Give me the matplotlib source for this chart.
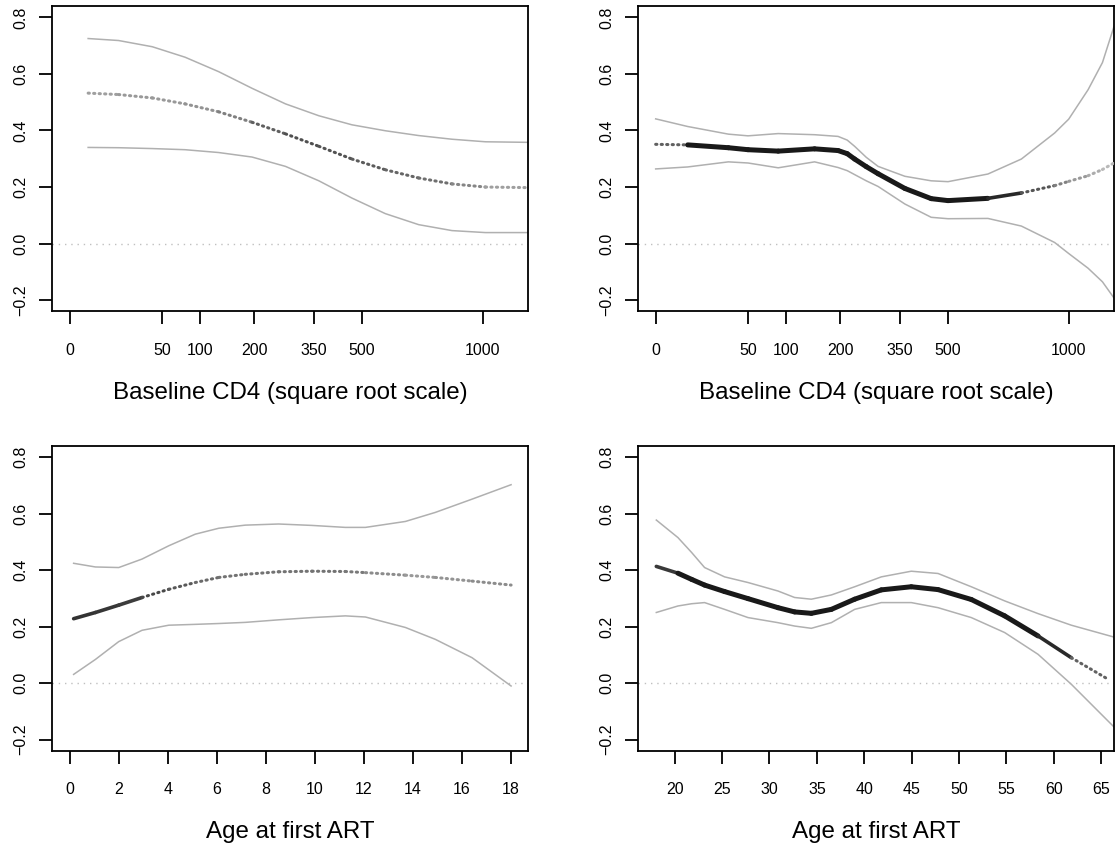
import numpy as np
import matplotlib
matplotlib.use("Agg")
import matplotlib.pyplot as plt
from matplotlib.collections import LineCollection

plt.rcParams['font.family'] = ['Liberation Sans', 'DejaVu Sans']

# ---------------- data ----------------
# Panel A: baseline CD4, children
cd4_a = [2, 14, 40, 78, 130, 195, 273, 364, 467, 584, 714, 857, 1013, 1231]
upper_a = [0.725, 0.718, 0.696, 0.659, 0.608, 0.549, 0.494, 0.452, 0.420, 0.399, 0.382, 0.369, 0.360, 0.358]
lower_a = [0.340, 0.339, 0.336, 0.332, 0.322, 0.306, 0.273, 0.222, 0.161, 0.106, 0.067, 0.046, 0.039, 0.039]
mean_a = [0.532, 0.527, 0.515, 0.494, 0.466, 0.429, 0.388, 0.344, 0.299, 0.261, 0.232, 0.211, 0.200, 0.198]
dens_a = [0.35, 0.40, 0.40, 0.40, 0.45, 0.55, 0.70, 0.68, 0.66, 0.62, 0.58, 0.55, 0.40, 0.35]

# Panel B: baseline CD4, adults
cd4_b = [0, 6, 31, 50, 88, 148, 195, 215, 232, 260, 290, 364, 445, 501, 647, 784, 933, 1000, 1096, 1170, 1231]
upper_b = [0.441, 0.414, 0.387, 0.381, 0.389, 0.385, 0.379, 0.366, 0.344, 0.305, 0.273, 0.238, 0.222, 0.219,
           0.246, 0.299, 0.391, 0.440, 0.544, 0.640, 0.767]
lower_b = [0.264, 0.271, 0.289, 0.285, 0.268, 0.289, 0.269, 0.258, 0.244, 0.222, 0.202, 0.140, 0.093, 0.088,
           0.089, 0.062, 0.004, -0.035, -0.087, -0.135, -0.192]
mean_b = [0.351, 0.349, 0.339, 0.332, 0.327, 0.335, 0.329, 0.318, 0.299, 0.272, 0.247, 0.195, 0.159, 0.152,
          0.160, 0.179, 0.205, 0.220, 0.240, 0.262, 0.285]
dens_b = [0.35, 0.90, 0.90, 0.90, 0.90, 0.90, 0.90, 0.90, 0.90, 0.90, 0.90, 0.90, 0.90, 0.90,
          0.90, 0.78, 0.55, 0.45, 0.35, 0.30, 0.25]

# Panel C: age at first ART, children
age_c = [0.16, 1.05, 2.0, 2.95, 4.04, 5.12, 6.08, 7.16, 8.52, 9.88, 11.24, 12.06, 13.69, 14.91, 16.41, 18.0]
upper_c = [0.424, 0.411, 0.409, 0.439, 0.486, 0.527, 0.548, 0.559, 0.563, 0.558, 0.551, 0.551, 0.572, 0.604, 0.651, 0.702]
lower_c = [0.031, 0.084, 0.147, 0.187, 0.205, 0.208, 0.211, 0.215, 0.224, 0.232, 0.238, 0.234, 0.197, 0.155, 0.090, -0.010]
mean_c = [0.228, 0.250, 0.276, 0.303, 0.332, 0.356, 0.374, 0.385, 0.394, 0.396, 0.395, 0.391, 0.382, 0.374, 0.361, 0.347]
dens_c = [0.80, 0.80, 0.78, 0.75, 0.68, 0.62, 0.55, 0.55, 0.55, 0.55, 0.55, 0.50, 0.40, 0.40, 0.45, 0.45]

# Panel D: age at first ART, adults
age_d = [18.07, 20.35, 21.8, 23.16, 25.27, 27.74, 30.90, 32.66, 34.42, 36.53, 38.99, 41.80, 44.96, 47.78,
         51.29, 54.81, 58.33, 61.84, 66.34]
upper_d = [0.577, 0.515, 0.462, 0.409, 0.376, 0.356, 0.326, 0.303, 0.297, 0.312, 0.341, 0.376, 0.396, 0.388,
           0.341, 0.291, 0.246, 0.205, 0.163]
lower_d = [0.250, 0.273, 0.281, 0.285, 0.261, 0.232, 0.214, 0.202, 0.194, 0.214, 0.261, 0.285, 0.285, 0.267,
           0.232, 0.179, 0.102, -0.004, -0.155]
age_d_mean = [18.07, 20.35, 21.8, 23.16, 25.27, 27.74, 30.90, 32.66, 34.42, 36.53, 38.99, 41.80, 44.96, 47.78,
              51.29, 54.81, 58.33, 61.84, 65.71]
mean_d = [0.413, 0.389, 0.367, 0.347, 0.324, 0.299, 0.267, 0.252, 0.247, 0.261, 0.297, 0.330, 0.341, 0.331,
          0.296, 0.238, 0.167, 0.090, 0.014]
dens_d = [0.65, 0.90, 0.90, 0.90, 0.90, 0.90, 0.90, 0.90, 0.90, 0.90, 0.90, 0.90, 0.90, 0.90,
          0.90, 0.90, 0.90, 0.78, 0.45]

cd4_ticks = [0, 50, 100, 200, 350, 500, 1000]
age_child_ticks = [0, 2, 4, 6, 8, 10, 12, 14, 16, 18]
age_adult_ticks = [20, 25, 30, 35, 40, 45, 50, 55, 60, 65]
y_ticks = [-0.2, 0.0, 0.2, 0.4, 0.6, 0.8]
y_ticklabels = ['\u22120.2', '0.0', '0.2', '0.4', '0.6', '0.8']
xlabel_cd4 = 'Baseline CD4 (square root scale)'
xlabel_age = 'Age at first ART'

# ---------------- layout ----------------
W, H = 1120, 847
fig = plt.figure(figsize=(W / 100, H / 100), dpi=100)


def add_axes_px(left, right, top, bottom):
    return fig.add_axes([left / W, 1 - bottom / H, (right - left) / W, (bottom - top) / H])


def fwd(x):
    x = np.asarray(x, dtype=float)
    return np.sign(x) * np.sqrt(np.abs(x))


def inv(y):
    y = np.asarray(y, dtype=float)
    return np.sign(y) * y ** 2


BAND = '#b0b0b0'


def draw_mean(ax, x, y, dens):
    pts = np.column_stack([x, y])
    segs = [pts[i:i + 2] for i in range(len(pts) - 1)]
    colors, lws, styles = [], [], []
    for i in range(len(segs)):
        d = 0.5 * (dens[i] + dens[i + 1])
        g = 1 - d
        colors.append((g, g, g))
        if d >= 0.85:
            lws.append(3.6)
            styles.append('solid')
        elif d >= 0.74:
            lws.append(2.6)
            styles.append('solid')
        else:
            lws.append(2.2)
            styles.append((0, (0.4, 1.4)))
    lc = LineCollection(segs, colors=colors, linewidths=lws, linestyles=styles,
                        capstyle='round', joinstyle='round', zorder=3)
    ax.add_collection(lc)


def style_axes(ax, xticks, xlabel, xlim):
    ax.set_xlim(*xlim)
    ax.set_ylim(-0.24, 0.84)
    ax.axhline(0, color='#c0c0c0', lw=1.0, ls=(0, (1, 3.5)), zorder=1)
    ax.set_xticks(xticks)
    ax.set_xticklabels([str(t) for t in xticks])
    ax.set_yticks(y_ticks)
    ax.set_yticklabels(y_ticklabels, rotation=90, va='center')
    for s in ax.spines.values():
        s.set_linewidth(1.3)
    ax.tick_params(axis='both', direction='out', length=9.4, width=1.3, labelsize=11.5)
    ax.tick_params(axis='x', pad=13)
    ax.tick_params(axis='y', pad=8)
    ax.set_xlabel(xlabel, fontsize=17.4)
    ax.xaxis.set_label_coords(0.5, -81 / 305.5)
    ax.xaxis.label.set_va('center')


# Panel A
axA = add_axes_px(52.3, 528, 6, 311.5)
axA.set_xscale('function', functions=(fwd, inv))
axA.plot(cd4_a, upper_a, color=BAND, lw=1.1)
axA.plot(cd4_a, lower_a, color=BAND, lw=1.1)
draw_mean(axA, cd4_a, mean_a, dens_a)
style_axes(axA, cd4_ticks, xlabel_cd4, (-(1.33 ** 2), 35.09 ** 2))

# Panel B
axB = add_axes_px(638.3, 1114, 6, 311.5)
axB.set_xscale('function', functions=(fwd, inv))
axB.plot(cd4_b, upper_b, color=BAND, lw=1.1)
axB.plot(cd4_b, lower_b, color=BAND, lw=1.1)
draw_mean(axB, cd4_b, mean_b, dens_b)
style_axes(axB, cd4_ticks, xlabel_cd4, (-(1.33 ** 2), 35.09 ** 2))

# Panel C
axC = add_axes_px(52.3, 528, 445.7, 751)
axC.plot(age_c, upper_c, color=BAND, lw=1.1)
axC.plot(age_c, lower_c, color=BAND, lw=1.1)
draw_mean(axC, age_c, mean_c, dens_c)
style_axes(axC, age_child_ticks, xlabel_age, (-0.71, 18.69))

# Panel D
axD = add_axes_px(638.3, 1114, 445.7, 751)
axD.plot(age_d, upper_d, color=BAND, lw=1.1)
axD.plot(age_d, lower_d, color=BAND, lw=1.1)
draw_mean(axD, age_d_mean, mean_d, dens_d)
style_axes(axD, age_adult_ticks, xlabel_age, (16.17, 66.34))

fig.savefig('out.png', dpi=100)
